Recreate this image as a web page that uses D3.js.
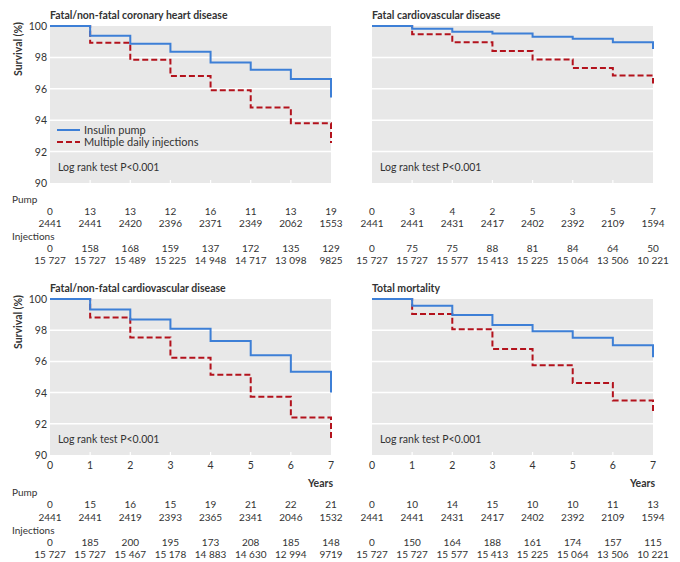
<!DOCTYPE html>
<html><head><meta charset="utf-8">
<script src="https://cdn.jsdelivr.net/npm/d3@7"></script>
<style>
body{margin:0;background:#fff;}
svg text{font-family:Lato,"Noto Sans",sans-serif;fill:#333;}
</style></head>
<body>
<svg id="c" width="680" height="562"></svg>
<script>
// ---- data ----
const years = [0,1,2,3,4,5,6,7];
const yTicks = [90,92,94,96,98,100];
const titles = ["Fatal/non-fatal coronary heart disease","Fatal cardiovascular disease","Fatal/non-fatal cardiovascular disease","Total mortality"];
const seriesNames = ["Insulin pump","Multiple daily injections"];
const logRankText = "Log rank test P<0.001";

// survival (%) for intervals 0-1 ... 6-7, final value at year 7
const pumpCHD = [100,99.38,98.87,98.36,97.68,97.21,96.62,95.45];
const injCHD  = [100,98.94,97.85,96.81,95.91,94.81,93.81,92.55];
const pumpFCVD = [100,99.83,99.64,99.53,99.32,99.19,98.96,98.53];
const injFCVD  = [100,99.47,98.96,98.40,97.87,97.32,96.85,96.34];
const pumpCVD = [100,99.32,98.68,98.10,97.31,96.39,95.34,94.00];
const injCVD  = [100,98.82,97.54,96.24,95.15,93.74,92.40,90.96];
const pumpTM = [100,99.57,98.97,98.33,97.93,97.52,97.03,96.26];
const injTM  = [100,99.04,98.06,96.80,95.75,94.62,93.50,92.63];

// numbers at risk tables
const pumpEventsCHD = [0,13,13,12,16,11,13,19];
const pumpRiskCHD   = [2441,2441,2420,2396,2371,2349,2062,1553];
const injEventsCHD  = [0,158,168,159,137,172,135,129];
const injRiskCHD    = [15727,15727,15489,15225,14948,14717,13098,9825];
const pumpEventsFCVD = [0,3,4,2,5,3,5,7];
const pumpRiskFCVD   = [2441,2441,2431,2417,2402,2392,2109,1594];
const injEventsFCVD  = [0,75,75,88,81,84,64,50];
const injRiskFCVD    = [15727,15727,15577,15413,15225,15064,13506,10221];
const pumpEventsCVD = [0,15,16,15,19,21,22,21];
const pumpRiskCVD   = [2441,2441,2419,2393,2365,2341,2046,1532];
const injEventsCVD  = [0,185,200,195,173,208,185,148];
const injRiskCVD    = [15727,15727,15467,15178,14883,14630,12994,9719];
const pumpEventsTM = [0,10,14,15,10,10,11,13];
const pumpRiskTM   = [2441,2441,2431,2417,2402,2392,2109,1594];
const injEventsTM  = [0,150,164,188,161,174,157,115];
const injRiskTM    = [15727,15727,15577,15413,15225,15064,13506,10221];

// ---- layout ----
const topRows = {pump:199, r1:211, r2:223, inj:236, r3:248, r4:260};
const botRows = {pump:492, r1:504, r2:517, inj:530, r3:542, r4:554};
const panels = [
 {title:titles[0], pump:pumpCHD, inj:injCHD, pe:pumpEventsCHD, pr:pumpRiskCHD, ie:injEventsCHD, ir:injRiskCHD, x0:50, top:26, bot:183, left:true, bottom:false, legend:true, t:topRows},
 {title:titles[1], pump:pumpFCVD, inj:injFCVD, pe:pumpEventsFCVD, pr:pumpRiskFCVD, ie:injEventsFCVD, ir:injRiskFCVD, x0:372, top:26, bot:183, left:false, bottom:false, legend:false, t:topRows},
 {title:titles[2], pump:pumpCVD, inj:injCVD, pe:pumpEventsCVD, pr:pumpRiskCVD, ie:injEventsCVD, ir:injRiskCVD, x0:50, top:299, bot:455, left:true, bottom:true, legend:false, t:botRows},
 {title:titles[3], pump:pumpTM, inj:injTM, pe:pumpEventsTM, pr:pumpRiskTM, ie:injEventsTM, ir:injRiskTM, x0:372, top:299, bot:455, left:false, bottom:true, legend:false, t:botRows}
];
const W = 281;
const FS = 10.5;
const TFS = 10;
const blue = "#3d7fd6", red = "#b3121c";
const svg = d3.select("#c");
const fmt = v => v >= 10000 ? String(v).replace(/(\d+)(\d{3})$/, "$1 $2") : String(v);

panels.forEach(p => {
  const x = d3.scaleLinear().domain([0,7]).range([p.x0, p.x0+W]);
  const y = d3.scaleLinear().domain([90,100]).range([p.bot, p.top]);
  const g = svg.append("g");
  g.append("rect").attr("x",x(0)).attr("y",y(100)).attr("width",x(7)-x(0)).attr("height",y(90)-y(100)).attr("fill","#e8e8e8");
  // gridlines
  g.selectAll("line.grid").data(yTicks.filter(t=>t>90 && t<100)).join("line")
   .attr("x1",x(0)).attr("x2",x(7)).attr("y1",d=>y(d)).attr("y2",d=>y(d))
   .attr("stroke","#fff").attr("stroke-width",1.5);
  // bottom ticks
  g.selectAll("line.tk").data(years.filter(d=>d>0&&d<7)).join("line")
   .attr("x1",d=>x(d)).attr("x2",d=>x(d)).attr("y1",y(90)).attr("y2",y(90)-3)
   .attr("stroke","#fff").attr("stroke-width",1.2);
  // title
  g.append("text").attr("x",x(0)).attr("y",p.top-7).attr("font-size",10.5)
   .attr("font-weight","bold").attr("fill","#222").text(p.title);
  if (p.left) {
    g.selectAll("text.yl").data(yTicks).join("text")
     .attr("x",x(0)-3).attr("y",d=>y(d)+4).attr("text-anchor","end").attr("font-size",FS).text(d=>d);
    g.append("text").attr("transform",`translate(22,${p.top-4}) rotate(-90)`).attr("text-anchor","end")
     .attr("font-size",FS).attr("font-weight","bold").attr("fill","#222").text("Survival (%)");
  }
  if (p.bottom) {
    g.selectAll("text.xl").data(years).join("text")
     .attr("x",d=>x(d)).attr("y",y(90)+14).attr("text-anchor","middle").attr("font-size",FS).text(d=>d);
    g.append("text").attr("x",x(7)+2).attr("y",y(90)+32).attr("text-anchor","end").attr("font-size",10.5).attr("font-weight","bold").attr("fill","#222").text("Years");
  }
  const line = d3.line().x((d,i)=>x(years[i])).y(d=>y(d)).curve(d3.curveStepAfter);
  g.append("path").attr("d",line(p.inj)).attr("fill","none").attr("stroke",red).attr("stroke-width",2).attr("stroke-dasharray","6,3");
  g.append("path").attr("d",line(p.pump)).attr("fill","none").attr("stroke",blue).attr("stroke-width",2);
  g.append("text").attr("x",x(0)+8).attr("y",y(90)-12).attr("font-size",FS).text(logRankText);
  if (p.legend) {
    const ly = [130,142];
    [blue,red].forEach((c,i)=>{
      g.append("line").attr("x1",x(0)+7).attr("x2",x(0)+30).attr("y1",ly[i]).attr("y2",ly[i])
       .attr("stroke",c).attr("stroke-width",2).attr("stroke-dasharray", i? "6,3": null);
      g.append("text").attr("x",x(0)+34).attr("y",ly[i]+4).attr("font-size",11).text(seriesNames[i]);
    });
  }
  // risk table
  const t = p.t;
  if (p.left) {
    g.append("text").attr("x",12).attr("y",t.pump+3.5).attr("font-size",TFS).text("Pump");
    g.append("text").attr("x",12).attr("y",t.inj+3.5).attr("font-size",TFS).text("Injections");
  }
  const rows = [[p.pe,t.r1],[p.pr,t.r2],[p.ie,t.r3],[p.ir,t.r4]];
  rows.forEach(([arr,cy])=>{
    g.selectAll(null).data(arr).join("text")
     .attr("x",(d,i)=>x(years[i])).attr("y",cy+3.5).attr("text-anchor","middle").attr("font-size",TFS).text(d=>fmt(d));
  });
});
</script>
</body></html>
